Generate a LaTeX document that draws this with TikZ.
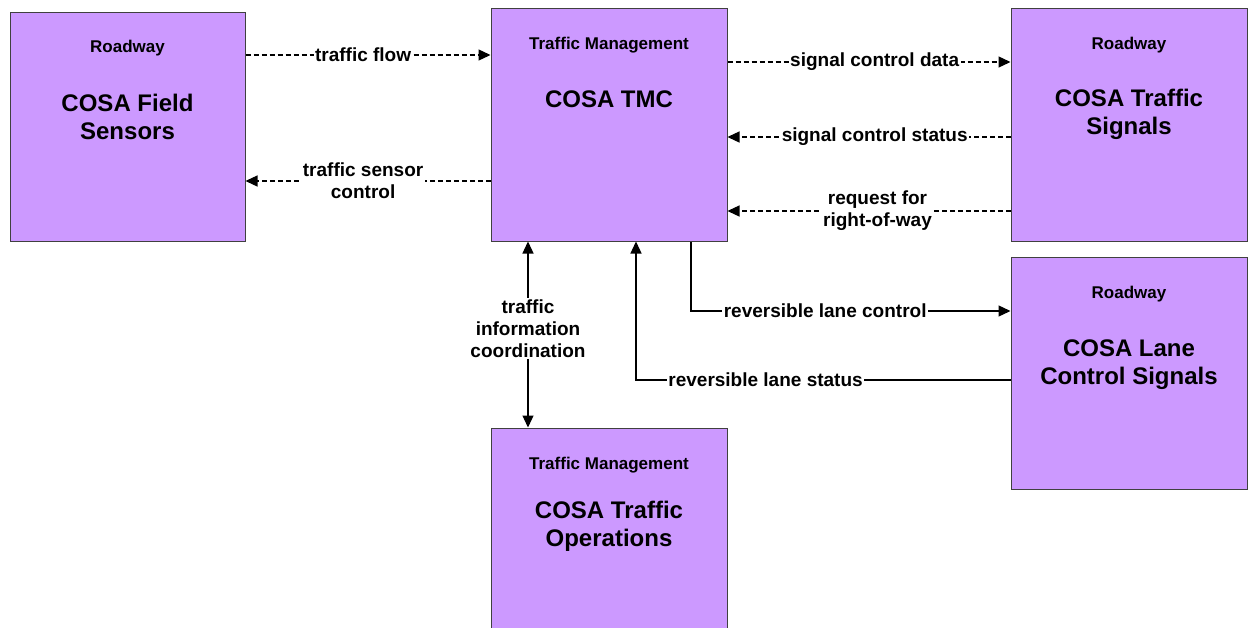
\documentclass[tikz,border=0pt]{standalone}
\usepackage{fontspec}
\setmainfont{Liberation Sans}
\usetikzlibrary{arrows.meta}
\definecolor{boxfill}{HTML}{CC99FF}
\definecolor{boxline}{HTML}{404040}
\tikzset{
  box/.style={draw=boxline, fill=boxfill, line width=1pt, minimum width=236pt, inner sep=0pt},
  hdr/.style={font=\fontsize{17}{20}\selectfont\bfseries, inner sep=0pt},
  ttl/.style={font=\fontsize{24}{28}\selectfont\bfseries, align=center, inner sep=0pt},
  lbl/.style={font=\fontsize{19}{22}\selectfont\bfseries, align=center, fill=white, inner sep=1.5pt},
  tip/.tip={Triangle[length=12pt,width=11pt]},
  flow/.style={line width=1.3pt, -tip},
  dflow/.style={flow, dash pattern=on 5pt off 3pt},
}
\begin{document}
\begin{tikzpicture}[x=1pt,y=-1pt]
\useasboundingbox (0,0) rectangle (1248,627);
% boxes
\node[box, minimum width=235pt, minimum height=229pt] (fs) at (127.5,126.5) {};
\node[box, minimum height=233pt] (tmc) at (609,124.5) {};
\node[box, minimum height=233pt] (ts) at (1129,124.5) {};
\node[box, minimum height=232pt] (lcs) at (1129,373) {};
\node[box, minimum height=240pt] (ops) at (609,548) {};
% box texts
\node[hdr] (fsh) at (127.5,48) {Roadway};
\node[ttl] (fst) at (127.5,117) {COSA Field\\Sensors};
\node[hdr] (tmch) at (609,45) {Traffic Management};
\node[ttl] (tmct) at (609,99) {COSA TMC};
\node[hdr] (tsh) at (1129,45) {Roadway};
\node[ttl] (tst) at (1129,114) {COSA Traffic\\Signals};
\node[hdr] (lcsh) at (1129,294) {Roadway};
\node[ttl] (lcst) at (1129,365) {COSA Lane\\Control Signals};
\node[hdr] (opsh) at (609,465) {Traffic Management};
\node[ttl] (opst) at (609,526) {COSA Traffic\\Operations};
% connectors
\draw[dflow] (fs.east |- {0,55}) -- node[lbl, pos=0.48] {traffic flow} (tmc.west |- {0,55});
\draw[dflow] (tmc.west |- {0,181}) -- node[lbl, pos=0.52] {traffic sensor\\control} (fs.east |- {0,181});
\draw[dflow] (tmc.east |- {0,62}) -- node[lbl, pos=0.52] {signal control data} (ts.west |- {0,62});
\draw[dflow] (ts.west |- {0,137}) -- node[lbl, pos=0.48] {signal control status} (tmc.east |- {0,137});
\draw[dflow] (ts.west |- {0,211}) -- node[lbl, pos=0.47] {request for\\right-of-way} (tmc.east |- {0,211});
\draw[flow] (tmc.south -| {691,0}) |- node[lbl, pos=0.71] {reversible lane control} (lcs.west |- {0,311});
\draw[flow] (lcs.west |- {0,380}) -| node[lbl, pos=0.327] {reversible lane status} (tmc.south -| {636,0});
\draw[flow, tip-tip] (tmc.south -| {528,0}) -- node[lbl, pos=0.47] {traffic\\information\\coordination} (ops.north -| {528,0});
\end{tikzpicture}
\end{document}
